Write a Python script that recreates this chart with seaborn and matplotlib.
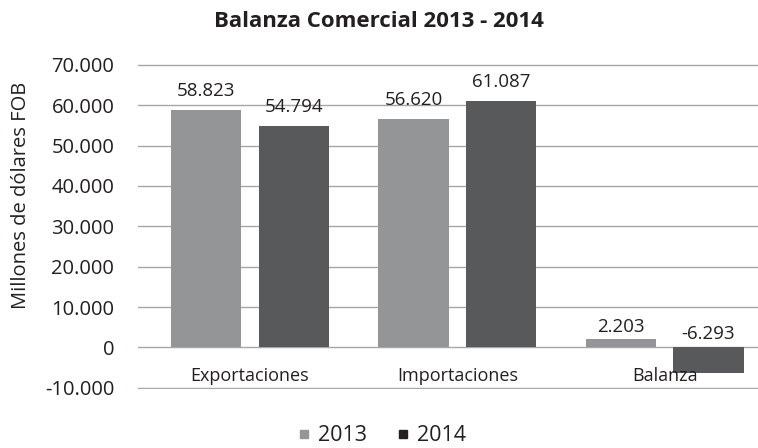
import seaborn as sns
import matplotlib.pyplot as plt
import pandas as pd
from matplotlib.lines import Line2D

categorias = ['Exportaciones', 'Importaciones', 'Balanza']
valores_2013 = [58823, 56620, 2203]
valores_2014 = [54794, 61087, -6293]
anios = ['2013', '2014']
colores = ['#939598', '#58595b']
colores_leyenda = ['#939598', '#231f20']

df = pd.DataFrame({
    'Categoria': categorias * 2,
    'Valor': valores_2013 + valores_2014,
    'Anio': [anios[0]] * 3 + [anios[1]] * 3,
})


def fmt_miles(v):
    return f'{v:,.0f}'.replace(',', '.')


sns.set_style('white')
plt.rcParams['font.family'] = ['Open Sans', 'DejaVu Sans']
texto = '#231f20'

fig = plt.figure(figsize=(7.58, 4.48), dpi=100)
ax = fig.add_axes([0.182, 0.1326, 0.818, 0.7246])

sns.barplot(data=df, x='Categoria', y='Valor', hue='Anio', palette=colores,
            width=0.845, gap=0.2, linewidth=0, legend=False, ax=ax, zorder=2)

ax.set_xlim(-0.54, 2.45)
ax.set_ylim(-10200, 70200)
ticks = list(range(-10000, 70001, 10000))
ax.set_yticks(ticks)
ax.set_yticklabels([fmt_miles(t) for t in ticks], fontsize=14.5)
ax.yaxis.grid(True, color='#a6a6a6', linewidth=1)
ax.set_axisbelow(True)
for s in ax.spines.values():
    s.set_visible(False)
ax.set_xticks([])
ax.tick_params(axis='y', length=0, pad=17, colors=texto)
ax.set_xlabel('')
ax.set_ylabel('Millones de dólares FOB', fontsize=14.5, color=texto)
ax.yaxis.set_label_coords(-0.172, 0.596)

# etiquetas de categoria sobre la linea de cero
for i, cat in enumerate(categorias):
    ax.annotate(cat, (i, 0), xytext=(0, -20.5), textcoords='offset points',
                ha='center', va='center', fontsize=13, color=texto, zorder=5)

# las etiquetas de la balanza quedan mas cerca de la barra
desplazamiento = [7, 7, 1.5]
for cont in ax.containers:
    for i, bar in enumerate(cont):
        v = bar.get_height()
        x = bar.get_x() + bar.get_width() / 2
        dy = desplazamiento[i] + (2 if v < 0 else 0)
        ax.annotate(fmt_miles(v), (x, max(v, 0)), xytext=(0, dy),
                    textcoords='offset points', ha='center', va='bottom',
                    fontsize=13.5, color=texto)

fig.suptitle('Balanza Comercial 2013 - 2014', fontsize=16, fontweight='bold',
             color=texto, y=0.975, x=0.5)

handles = [Line2D([], [], marker='s', linestyle='', color=c, markersize=6)
           for c in colores_leyenda]
fig.legend(handles, anios, loc='center', bbox_to_anchor=(0.503, 0.027), ncol=2,
           frameon=False, fontsize=15.5, handlelength=0.7, handletextpad=0.3,
           columnspacing=1.3, labelcolor=texto)

fig.savefig('out.png', dpi=100)
